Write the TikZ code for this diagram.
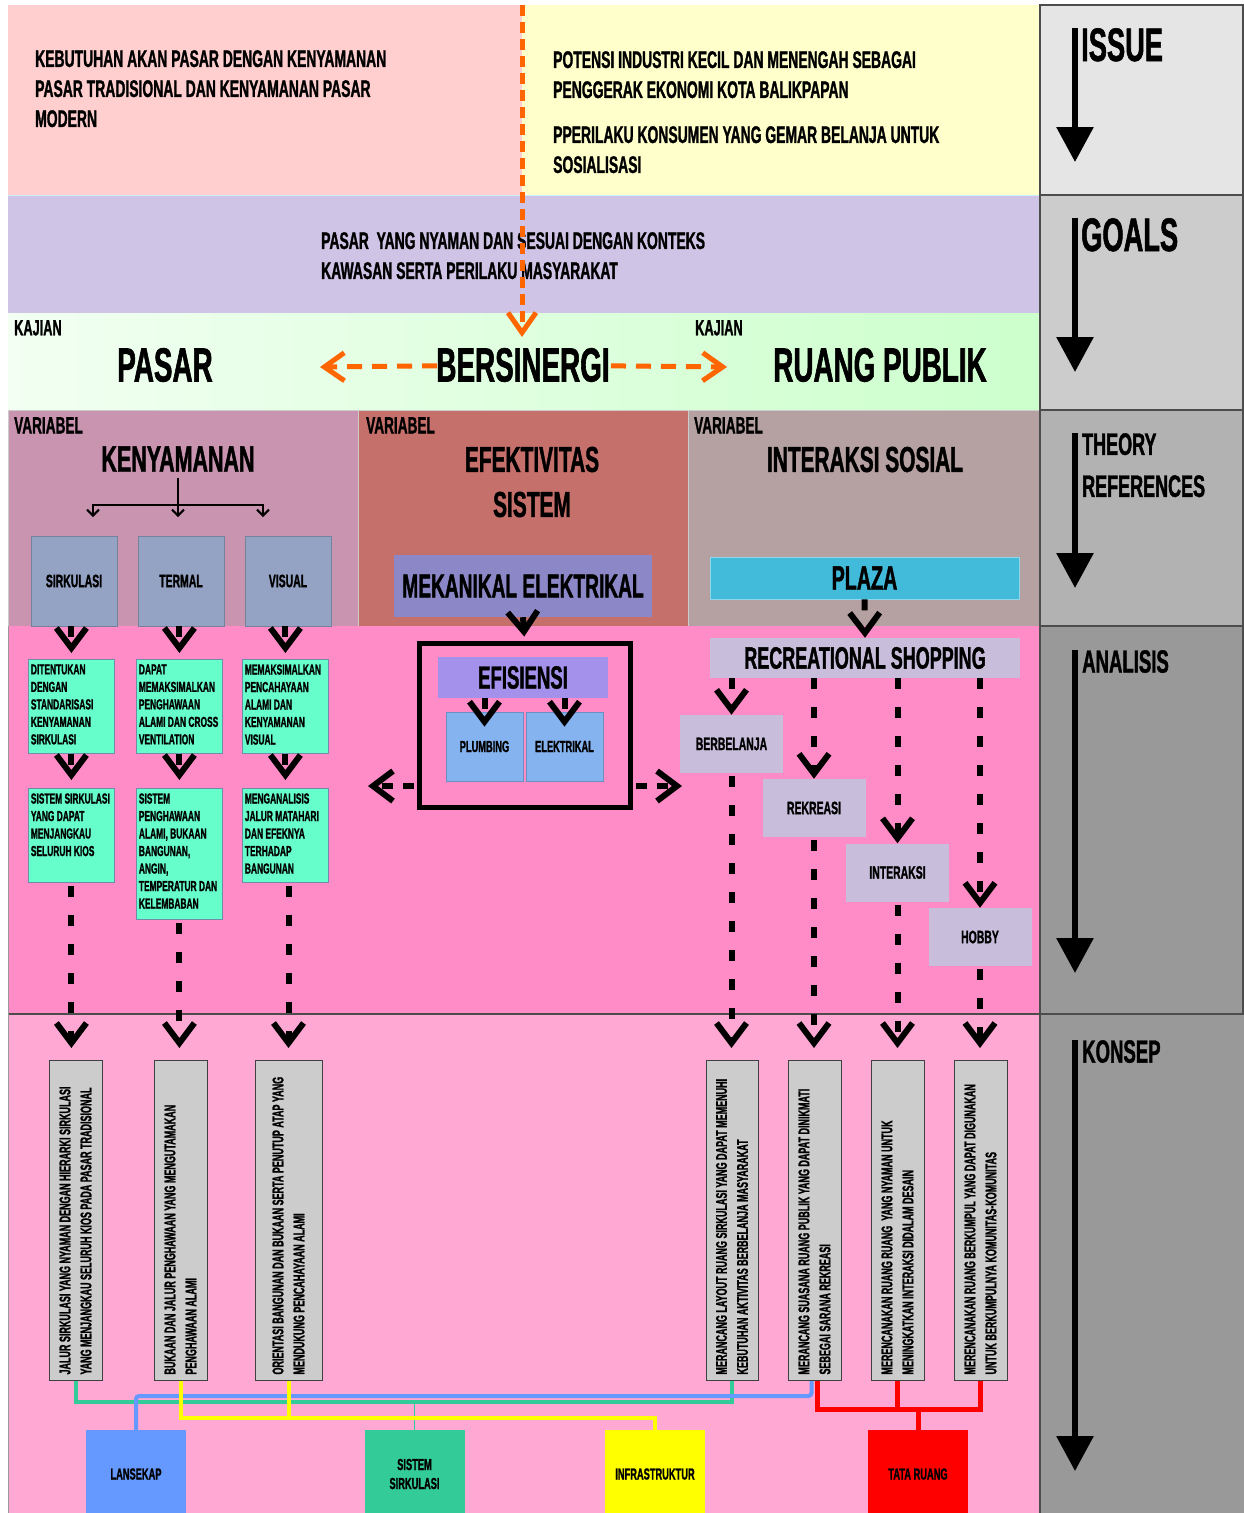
\documentclass[tikz,border=0pt]{standalone}
\usepackage{fontspec}
\setmainfont{Liberation Sans}
\newfontfamily\condfont[FakeStretch=0.58, FakeBold=1.2, BoldFont={Liberation Sans Bold}]{Liberation Sans}
\usetikzlibrary{arrows.meta,calc}
\pgfdeclarelayer{back}
\pgfdeclarelayer{mid}
\pgfsetlayers{back,mid,main}

\definecolor{issuepink}{HTML}{FFCFCF}
\definecolor{issueyel}{HTML}{FFFFCC}
\definecolor{goalpur}{HTML}{D0C4E6}
\definecolor{kajL}{HTML}{F2FFF2}
\definecolor{kajR}{HTML}{CCFFCC}
\definecolor{varA}{HTML}{C994AF}
\definecolor{varB}{HTML}{C6706C}
\definecolor{varC}{HTML}{B5A1A1}
\definecolor{anaPink}{HTML}{FF8CC6}
\definecolor{konPink}{HTML}{FFA8D4}
\definecolor{subBlue}{HTML}{94A3C3}
\definecolor{mint}{HTML}{66FFCC}
\definecolor{mekPur}{HTML}{8C88C8}
\definecolor{plazaBlue}{HTML}{42BBDB}
\definecolor{efiPur}{HTML}{A391EB}
\definecolor{sysBlue}{HTML}{85B3F0}
\definecolor{lilac}{HTML}{C8BEDC}
\definecolor{konGray}{HTML}{CCCCCC}
\definecolor{orangeLn}{HTML}{FF6600}
\definecolor{lnGreen}{HTML}{33CC99}
\definecolor{lnBlue}{HTML}{6699FF}
\definecolor{lnYellow}{HTML}{FFFF00}
\definecolor{lnRed}{HTML}{FF0000}

\tikzset{
  every node/.style={inner sep=0pt},
  fs/.style 2 args={font=\condfont\bfseries\fontsize{#1}{#2}\selectfont},
  nw/.style={anchor=north west, align=left},
  subbox/.style={fill=subBlue, draw=subBlue!80!black, line width=0.8pt,
    minimum width=86pt, minimum height=90pt, fs={18}{18}},
  mintbox/.style={fill=mint, draw=violet!45!mint, line width=0.8pt,
    anchor=north west, inner xsep=2.5pt, inner ysep=5pt, fs={14.5}{17.5}},
  sysbox/.style={fill=sysBlue, draw=sysBlue!80!black, line width=0.6pt,
    minimum width=77pt, minimum height=69pt, fs={16}{16}},
  lilacbox/.style={fill=lilac, minimum width=103pt, minimum height=58pt, fs={18}{18}},
  kbox/.style={fill=konGray, draw=black!75, line width=1pt, minimum height=320pt,
    fs={15.5}{21}},
  botbox/.style={minimum width=100pt, minimum height=88pt, fs={16}{19}, align=center},
  flow/.style={draw=black, line width=6pt, dash pattern=on 11pt off 18pt,
    -{Straight Barb[length=20pt,width=30pt]}},
  orflow/.style={draw=orangeLn, line width=5pt,
    -{Straight Barb[length=20pt,width=28pt]}},
  thinarr/.style={line width=2pt, -{Straight Barb[length=6pt,width=12pt]}},
  bigarrow/.style={line width=6pt, -{Triangle[length=35pt,width=36pt]}},
  colbox/.style={draw=black!70, line width=1.5pt},
}

\newcommand\ktext[2]{\rotatebox{90}{\parbox{308pt}{\raggedright #1\\#2}}}

\begin{document}
\begin{tikzpicture}[x=1pt,y=-1pt]
\useasboundingbox (0,0) rectangle (1243,1513);

% ---------- background bands ----------
\begin{pgfonlayer}{back}
  \fill[white] (0,0) rectangle (1243,1513);
  \fill[issuepink] (8,5) rectangle (522,195);
  \fill[issueyel] (522,5) rectangle (1040,195);
  \fill[goalpur] (8,195) rectangle (1040,313);
  \shade[left color=kajL, right color=kajR] (8,313) rectangle (1040,410);
  \filldraw[fill=varA, draw=black!20, line width=0.8pt] (8,410) rectangle (358,626);
  \filldraw[fill=varB, draw=black!20, line width=0.8pt] (358,410) rectangle (688,626);
  \filldraw[fill=varC, draw=black!20, line width=0.8pt] (688,410) rectangle (1040,626);
  \fill[anaPink] (8,626) rectangle (1040,1014);
  \fill[konPink] (8,1014) rectangle (1040,1513);
  \draw[black!70, line width=1.2pt] (8,1014) -- (1040,1014);
  \draw[black!40, line width=1pt] (8,626) -- (8,1513);
  \draw[cyan!20, line width=0.8pt] (8,195) -- (1040,195);
  % stage column
  \filldraw[fill=black!10, colbox] (1040,5) rectangle (1243,195);
  \filldraw[fill=black!20, colbox] (1040,195) rectangle (1243,410);
  \filldraw[fill=black!30, colbox] (1040,410) rectangle (1243,626);
  \filldraw[fill=black!40, colbox] (1040,626) rectangle (1243,1014);
  \filldraw[fill=black!40, colbox] (1040,1014) rectangle (1250,1520);
\end{pgfonlayer}

% ---------- stage labels ----------
\node[nw, fs={47}{47}] (issue) at (1081,28) {ISSUE};
\node[nw, fs={47}{47}] (goals) at (1081,218) {GOALS};
\node[nw, fs={31}{42}] (theory) at (1082,433) {THEORY\\REFERENCES};
\node[nw, fs={32}{32}] (analisis) at (1082,650) {ANALISIS};
\node[nw, fs={32}{32}] (konsep) at (1082,1040) {KONSEP};
\coordinate (sA1) at (1075,28);   \coordinate (sB1) at (1075,162);
\coordinate (sA2) at (1075,218);  \coordinate (sB2) at (1075,372);
\coordinate (sA3) at (1075,433);  \coordinate (sB3) at (1075,588);
\coordinate (sA4) at (1075,650);  \coordinate (sB4) at (1075,973);
\coordinate (sA5) at (1075,1040); \coordinate (sB5) at (1075,1471);
\foreach \i in {1,...,5} \draw[bigarrow] (sA\i) -- (sB\i);

% ---------- issue and goal ----------
\node[nw, fs={24}{30}] (need) at (35,50)
  {KEBUTUHAN AKAN PASAR DENGAN KENYAMANAN\\PASAR TRADISIONAL DAN KENYAMANAN PASAR\\MODERN};
\node[nw, fs={24}{30}] (potensi) at (553,51)
  {POTENSI INDUSTRI KECIL DAN MENENGAH SEBAGAI\\PENGGERAK EKONOMI KOTA BALIKPAPAN};
\node[nw, fs={24}{30}] (perilaku) at (553,126)
  {PPERILAKU KONSUMEN YANG GEMAR BELANJA UNTUK\\SOSIALISASI};
\node[nw, fs={24}{30}] (goal) at (321,232)
  {PASAR\ \ YANG NYAMAN DAN SESUAI DENGAN KONTEKS\\KAWASAN SERTA PERILAKU MASYARAKAT};

% ---------- kajian ----------
\node[nw, fs={22}{22}] (kaj1) at (14,320) {KAJIAN};
\node[nw, fs={22}{22}] (kaj2) at (695,320) {KAJIAN};
\node[fs={48}{48}] (pasar) at (165,365) {PASAR};
\node[fs={48}{48}] (bers) at (523,365) {BERSINERGI};
\node[fs={48}{48}] (rp) at (880,365) {RUANG PUBLIK};
\coordinate (orTop) at (522,5);
\coordinate (orTip) at (522,337);
\coordinate (tipL) at (320,367);
\coordinate (tipR) at (727,367);
\begin{pgfonlayer}{mid}
  \draw[orflow, dash pattern=on 15pt off 10pt, shorten <=86pt] (bers.center) -- (tipL);
  \draw[orflow, dash pattern=on 15pt off 10pt, shorten <=88pt] (bers.center) -- (tipR);
\end{pgfonlayer}
\draw[orflow, dash pattern=on 11pt off 6pt] (orTop) -- (orTip);

% ---------- variabel ----------
\node[nw, fs={23.5}{23.5}] (v1) at (14,417) {VARIABEL};
\node[nw, fs={23.5}{23.5}] (v2) at (366,417) {VARIABEL};
\node[nw, fs={23.5}{23.5}] (v3) at (694,417) {VARIABEL};
\node[fs={37}{37}] (ken) at (178,459) {KENYAMANAN};
\node[fs={36}{45}, align=center] (efek) at (532,482) {EFEKTIVITAS\\SISTEM};
\node[fs={36}{36}] (inter) at (865,459.5) {INTERAKSI SOSIAL};

\node[subbox] (sirk) at (74,581) {SIRKULASI};
\node[subbox] (term) at (181,581) {TERMAL};
\node[subbox] (vis) at (288,581) {VISUAL};
\node[fill=mekPur, minimum width=258pt, minimum height=62pt, fs={33}{33}] (mek) at (523,586) {MEKANIKAL ELEKTRIKAL};
\node[fill=plazaBlue, draw=plazaBlue!60!white, line width=0.8pt, minimum width=309pt, minimum height=42pt, fs={34}{34}] (plaza) at (864.5,578) {PLAZA};

\coordinate (tj) at (178,505);
\coordinate (tl) at (93,517);
\coordinate (tm) at (178,517);
\coordinate (tr) at (263,517);
\draw[thinarr, shorten <=6pt] (ken.south) -- (tm);
\draw[thinarr] (tj) -| (tl);
\draw[thinarr] (tj) -| (tr);

% ---------- analisis: kenyamanan ----------
\node[mintbox] (g1) at (28,659) {\parbox[c][84pt][t]{81pt}{\raggedright DITENTUKAN\\DENGAN\\STANDARISASI\\KENYAMANAN\\SIRKULASI}};
\node[mintbox] (g2) at (136,659) {\parbox[c][84pt][t]{81pt}{\raggedright DAPAT\\MEMAKSIMALKAN\\PENGHAWAAN\\ALAMI DAN CROSS\\VENTILATION}};
\node[mintbox] (g3) at (242,659) {\parbox[c][84pt][t]{81pt}{\raggedright MEMAKSIMALKAN\\PENCAHAYAAN\\ALAMI DAN\\KENYAMANAN\\VISUAL}};
\node[mintbox] (h1) at (28,788) {\parbox[c][84pt][t]{81pt}{\raggedright SISTEM SIRKULASI\\YANG DAPAT\\MENJANGKAU\\SELURUH KIOS}};
\node[mintbox] (h2) at (136,788) {\parbox[c][121pt][t]{81pt}{\raggedright SISTEM\\PENGHAWAAN\\ALAMI, BUKAAN\\BANGUNAN,\\ANGIN,\\TEMPERATUR DAN\\KELEMBABAN}};
\node[mintbox] (h3) at (242,788) {\parbox[c][84pt][t]{81pt}{\raggedright MENGANALISIS\\JALUR MATAHARI\\DAN EFEKNYA\\TERHADAP\\BANGUNAN}};

\draw[flow, shorten >=6pt] (sirk.south -| g1.north) -- (g1.north);
\draw[flow, shorten >=6pt] (term.south -| g2.north) -- (g2.north);
\draw[flow, shorten >=6pt] (vis.south -| g3.north) -- (g3.north);
\draw[flow, shorten >=8pt] (g1.south) -- (h1.north);
\draw[flow, shorten >=8pt] (g2.south) -- (h2.north);
\draw[flow, shorten >=8pt] (g3.south) -- (h3.north);

% ---------- analisis: efektivitas sistem ----------
\node[draw=black, line width=5pt, minimum width=211pt, minimum height=164pt] (frame) at (524.5,725) {};
\node[fill=efiPur, minimum width=170pt, minimum height=41pt, fs={32}{32}] (efis) at (523,677.5) {EFISIENSI};
\node[sysbox] (plumb) at (484.5,746.5) {PLUMBING};
\node[sysbox] (elek) at (564.5,746.5) {ELEKTRIKAL};
\draw[flow, shorten >=4pt] (mek.south) -- (frame.north);
\draw[flow] (efis.south -| plumb.north) -- ([yshift=-15pt]plumb.north);
\draw[flow] (efis.south -| elek.north) -- ([yshift=-15pt]elek.north);
\coordinate (sideY) at (0,786);
\coordinate (sideL) at (368,786);
\coordinate (sideR) at (682,786);
\draw[flow, dash pattern=on 11pt off 10pt, shorten <=3pt] (frame.west |- sideY) -- (sideL);
\draw[flow, dash pattern=on 11pt off 10pt, shorten <=3pt] (frame.east |- sideY) -- (sideR);

% ---------- analisis: interaksi sosial ----------
\node[fill=lilac, minimum width=310pt, minimum height=40pt, fs={31}{31}] (rs) at (865,658) {RECREATIONAL SHOPPING};
\node[lilacbox] (berb) at (731.5,744) {BERBELANJA};
\node[lilacbox] (rekr) at (814,808) {REKREASI};
\node[lilacbox] (intr) at (897.5,872.5) {INTERAKSI};
\node[lilacbox] (hob) at (980,937) {HOBBY};
\draw[flow] (plaza.south) -- (rs.north);
\draw[flow] (rs.south -| berb.north) -- (berb.north);
\draw[flow] (rs.south -| rekr.north) -- (rekr.north);
\draw[flow] (rs.south -| intr.north) -- (intr.north);
\draw[flow] (rs.south -| hob.north) -- (hob.north);

% ---------- konsep ----------
\node[kbox, minimum width=53pt] (k1) at (75.5,1220.5)
  {\ktext{JALUR SIRKULASI YANG NYAMAN DENGAN HIERARKI SIRKULASI}{YANG MENJANGKAU SELURUH KIOS PADA PASAR TRADISIONAL}};
\node[kbox, minimum width=53pt] (k2) at (180.5,1220.5)
  {\ktext{BUKAAN DAN JALUR PENGHAWAAN YANG MENGUTAMAKAN}{PENGHAWAAN ALAMI}};
\node[kbox, minimum width=67pt] (k3) at (288.5,1220.5)
  {\ktext{ORIENTASI BANGUNAN DAN BUKAAN SERTA PENUTUP ATAP YANG}{MENDUKUNG PENCAHAYAAN ALAMI}};
\node[kbox, minimum width=52pt] (k4) at (732,1220.5)
  {\ktext{MERANCANG LAYOUT RUANG SIRKULASI YANG DAPAT MEMENUHI}{KEBUTUHAN AKTIVITAS BERBELANJA MASYARAKAT}};
\node[kbox, minimum width=53pt] (k5) at (814.5,1220.5)
  {\ktext{MERANCANG SUASANA RUANG PUBLIK YANG DAPAT DINIKMATI}{SEBEGAI SARANA REKREASI}};
\node[kbox, minimum width=53pt] (k6) at (897.5,1220.5)
  {\ktext{MERENCANAKAN RUANG RUANG\ \ YANG NYAMAN UNTUK}{MENINGKATKAN INTERAKSI DIDALAM DESAIN}};
\node[kbox, minimum width=53pt] (k7) at (980.5,1220.5)
  {\ktext{MERENCANAKAN RUANG BERKUMPUL YANG DAPAT DIGUNAKAN}{UNTUK BERKUMPULNYA KOMUNITAS-KOMUNITAS}};

\draw[flow, shorten <=3pt, shorten >=12pt] (h1.south) -- (h1.south |- k1.north);
\draw[flow, shorten <=3pt, shorten >=12pt] (h2.south) -- (h2.south |- k2.north);
\draw[flow, shorten <=3pt, shorten >=12pt] (k3.north |- h3.south) -- (k3.north);
\draw[flow, shorten <=3pt, shorten >=12pt] (berb.south) -- (berb.south |- k4.north);
\draw[flow, shorten <=3pt, shorten >=12pt] (rekr.south) -- (rekr.south |- k5.north);
\draw[flow, shorten <=3pt, shorten >=12pt] (intr.south) -- (intr.south |- k6.north);
\draw[flow, shorten <=3pt, shorten >=12pt] (hob.south) -- (hob.south |- k7.north);

% ---------- concept groups ----------
\node[botbox, fill=lnBlue] (lan) at (136,1474) {LANSEKAP};
\node[botbox, fill=lnGreen] (sis) at (414.5,1474) {SISTEM\\SIRKULASI};
\node[botbox, fill=lnYellow] (inf) at (655,1474) {INFRASTRUKTUR};
\node[botbox, fill=lnRed] (tata) at (918,1474) {TATA RUANG};

\coordinate (gy) at (0,1402);
\coordinate (by) at (0,1396);
\coordinate (yy) at (0,1418);
\coordinate (ry) at (0,1409);
\coordinate (k5b) at ($(k5.south)+(-3,0)$);
\coordinate (k5r) at ($(k5.south)+(3,0)$);

\draw[lnGreen, line width=4pt] (k1.south) |- (k4.south |- gy) -- (k4.south);
\draw[lnGreen, line width=1pt] (sis.north) -- (sis.north |- gy);
\draw[lnBlue, line width=4pt, rounded corners=3pt] (lan.north) |- (k5b |- by) -- (k5b);
\draw[lnYellow, line width=4pt] (k2.south) |- (inf.north |- yy) -- (inf.north);
\draw[lnYellow, line width=4pt] (k3.south) -- (k3.south |- yy);
\draw[lnRed, line width=5pt] (k5r) |- (k7.south |- ry) -- (k7.south);
\draw[lnRed, line width=5pt] (k6.south) -- (k6.south |- ry);
\draw[lnRed, line width=5pt] (tata.north) -- (tata.north |- ry);
\end{tikzpicture}
\end{document}
